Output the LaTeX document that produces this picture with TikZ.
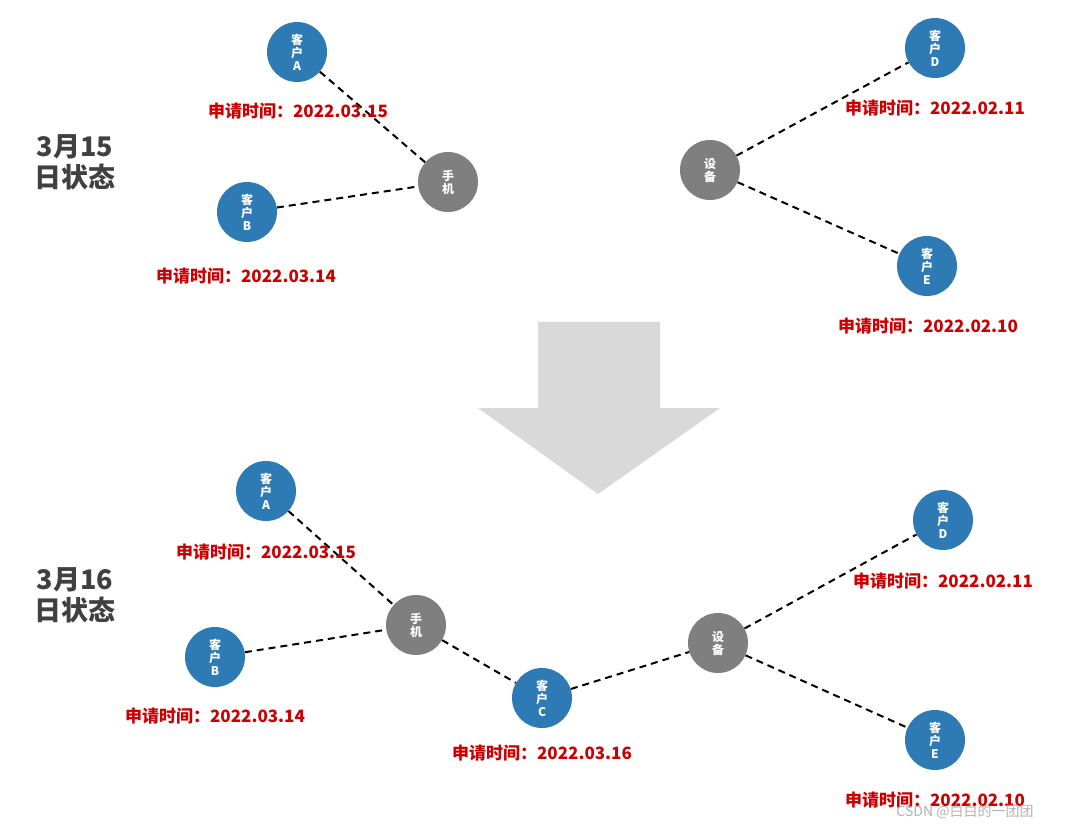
\documentclass[tikz,border=0pt]{standalone}
\usepackage{fontspec}
\setmainfont{Liberation Sans}
\newfontfamily\cjk{Noto Sans CJK SC}
\begin{document}
\begin{tikzpicture}[x=1pt,y=-1pt,
 cust/.style={circle,minimum size=60pt,inner sep=0pt,text=white,font=\cjk\bfseries\fontsize{12}{13}\selectfont,align=center},
 dev/.style={cust},
 lab/.style={text=red!80!black,font=\cjk\bfseries\fontsize{17}{19}\selectfont},
 ttl/.style={text=black!75,font=\cjk\bfseries\fontsize{27}{31}\selectfont,align=center},
 link/.style={line width=2pt,dash pattern=on 7pt off 5pt}]
\useasboundingbox (0,0) rectangle (1080,829);
\definecolor{nb}{HTML}{2E7AB5}\definecolor{ng}{HTML}{7F7F7F}
\tikzset{cust/.append style={fill=nb},dev/.append style={fill=ng}}
% top
\node[ttl] (t1) at (75,162) {3月15\\日状态};
\node[cust] (a1) at (297,52) {客\\户\\A};
\node[cust] (b1) at (247,212) {客\\户\\B};
\node[dev] (p1) at (448,182) {手\\机};
\node[dev] (s1) at (710,170) {设\\备};
\node[cust] (d1) at (935,48) {客\\户\\D};
\node[cust] (e1) at (927,266) {客\\户\\E};
\draw[link] (a1)--(p1); \draw[link] (b1)--(p1);
\draw[link] (s1)--(d1); \draw[link] (s1)--(e1);
\node[lab] (la1) at (298,111) {申请时间：2022.03.15};
\node[lab] (lb1) at (246,276) {申请时间：2022.03.14};
\node[lab] (ld1) at (935,108) {申请时间：2022.02.11};
\node[lab] (le1) at (928,326) {申请时间：2022.02.10};
% arrow
\fill[gray!30] (538,322) -- (660,322) -- (660,408) -- (720,408) -- (598,494) -- (478,408) -- (538,408) -- cycle;
% bottom
\node[ttl] (t2) at (75,595) {3月16\\日状态};
\node[cust] (a2) at (266,491) {客\\户\\A};
\node[cust] (b2) at (215,657) {客\\户\\B};
\node[dev] (p2) at (416,625) {手\\机};
\node[cust] (c2) at (542,698) {客\\户\\C};
\node[dev] (s2) at (718,643) {设\\备};
\node[cust] (d2) at (943,520) {客\\户\\D};
\node[cust] (e2) at (935,740) {客\\户\\E};
\draw[link] (a2)--(p2); \draw[link] (b2)--(p2); \draw[link] (p2)--(c2);
\draw[link] (c2)--(s2); \draw[link] (s2)--(d2); \draw[link] (s2)--(e2);
\node[lab] (la2) at (266,552) {申请时间：2022.03.15};
\node[lab] (lb2) at (215,716) {申请时间：2022.03.14};
\node[lab] (lc2) at (542,753) {申请时间：2022.03.16};
\node[lab] (ld2) at (943,581) {申请时间：2022.02.11};
\node[lab] (le2) at (935,800) {申请时间：2022.02.10};
\node[text=gray!60,font=\cjk\fontsize{14}{16}\selectfont] (wm) at (965,812) {CSDN @白白的一团团};
\end{tikzpicture}
\end{document}
